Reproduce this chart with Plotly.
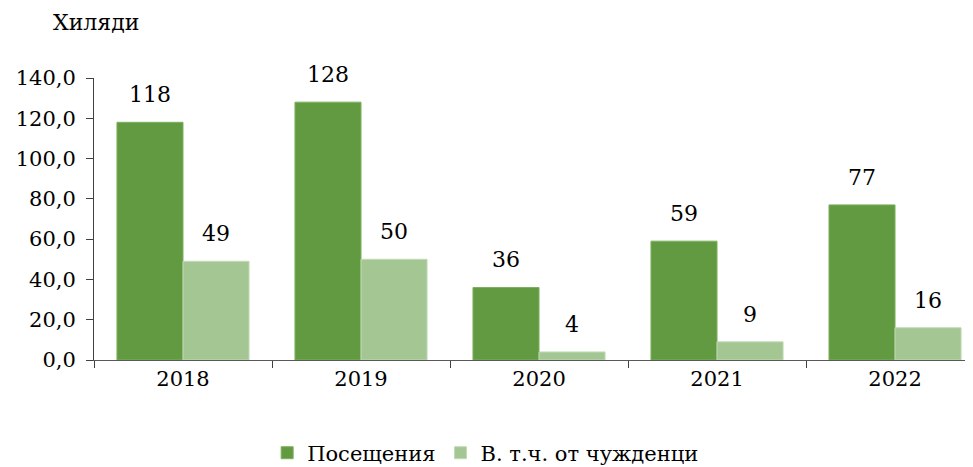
import plotly.graph_objects as go

years = ["2018", "2019", "2020", "2021", "2022"]
visits = [118, 128, 36, 59, 77]
foreigners = [49, 50, 4, 9, 16]
names = ["Посещения", "В. т.ч. от чужденци"]
colors = ["#629A41", "#A3C692"]

FONT = '"DejaVu Serif", serif'

fig = go.Figure()
series = [(visits, names[0], colors[0], "#7DB05E", -1),
          (foreigners, names[1], colors[1], "#C2DAB6", 1)]
for vals, name, col, lc, side in series:
    fig.add_trace(go.Bar(x=years, y=vals, name=name,
                         marker=dict(color=col, line=dict(color=lc, width=1))))
    for i, v in enumerate(vals):
        fig.add_annotation(x=i, y=v, xref="x", yref="y", text=str(v), showarrow=False,
                           xshift=side * 33, yshift=13, yanchor="bottom", xanchor="center",
                           font=dict(size=22, family=FONT, color="black"))

fig.update_layout(
    width=965, height=459,
    margin=dict(l=86, r=0, t=70, b=107, autoexpand=False),
    paper_bgcolor="white", plot_bgcolor="white",
    barmode="group", bargap=0.258, bargroupgap=0,
    separators=", ",
    font=dict(family=FONT, size=20, color="black"),
    showlegend=True,
    legend=dict(orientation="h", x=0.197, xanchor="left", y=-0.33, yanchor="middle",
                font=dict(size=21, family=FONT), itemwidth=30, traceorder="normal"),
)
fig.update_xaxes(type="category", range=[-0.5, 4.438], showline=True, linecolor="#595959",
                 linewidth=1, ticks="outside", tickson="boundaries", ticklen=7,
                 tickcolor="#404040", showgrid=False, automargin=False,
                 tickfont=dict(size=21, family=FONT))
fig.update_yaxes(range=[0, 140], dtick=20, tickformat=".1f", showline=True,
                 linecolor="#404040", linewidth=1, ticks="outside", ticklen=7,
                 tickcolor="#404040", showgrid=False, zeroline=False, automargin=False,
                 ticklabelstandoff=6, tickfont=dict(size=21, family=FONT))
fig.add_annotation(text="Хиляди", xref="paper", yref="paper", x=0.002, y=1.0,
                   yshift=56, xanchor="center", yanchor="middle", showarrow=False,
                   font=dict(size=22, family=FONT))
fig.write_html("out.html")
